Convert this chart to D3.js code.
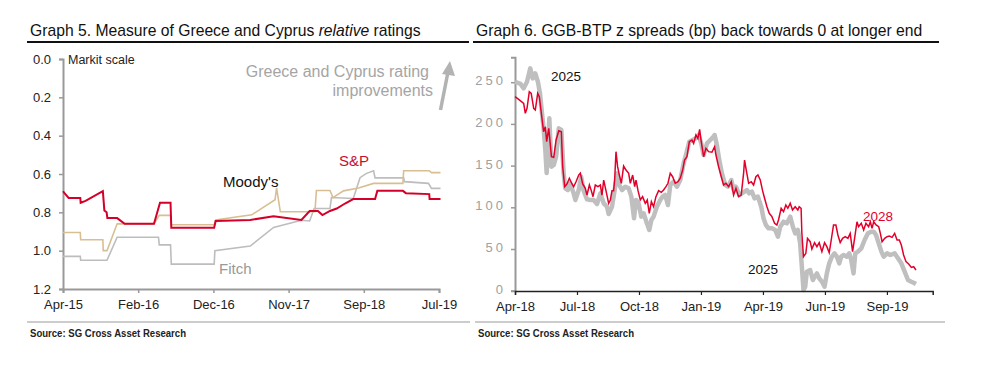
<!DOCTYPE html>
<html>
<head>
<meta charset="utf-8">
<script src="https://d3js.org/d3.v7.min.js"></script>
<style>
  body { margin: 0; background: #fff; }
  svg { font-family: "Liberation Sans", Arial, Helvetica, sans-serif; }
</style>
</head>
<body>
<div id="my_dataviz"></div>
<script>
// ---- Graph 5 data: [period index, Markit scale] ----
var ratingTicks = ["Apr-15", "Feb-16", "Dec-16", "Nov-17", "Sep-18", "Jul-19"];
var ratingYTicks = [0, 0.2, 0.4, 0.6, 0.8, 1.0, 1.2];

var sandp = [[0,0.69],[0.2,0.70],[0.75,0.725],[2.3,0.725],[2.35,0.75],[3.0,0.74],[5.3,0.69],[5.5,0.79],
  [5.8,0.80],[5.9,0.83],[7.2,0.83],[8.2,0.86],[12.1,0.86],[12.9,0.75],[14.3,0.75],[14.4,0.88],[20.1,0.88],
  [20.3,0.845],[24.9,0.84],[28.0,0.82],[31.7,0.84],[32.8,0.793],[33.9,0.793],[34.5,0.814],[35.5,0.793],
  [36.4,0.78],[37.5,0.754],[38.6,0.731],[41.5,0.731],[41.8,0.688],[45.2,0.688],[45.6,0.70],[48.7,0.705],
  [48.75,0.731],[50.2,0.731]];
var moodys = [[0,0.905],[2.3,0.905],[2.35,0.943],[5.3,0.943],[5.35,1.0],[5.85,1.0],[7.2,0.86],[12.1,0.86],
  [12.8,0.816],[14.3,0.816],[14.4,0.865],[20.1,0.865],[20.3,0.84],[25.1,0.813],[28.2,0.734],[28.4,0.673],
  [28.9,0.797],[33.5,0.797],[33.7,0.686],[35.5,0.686],[35.9,0.723],[37.3,0.688],[39.3,0.673],[41.3,0.649],
  [45.2,0.649],[45.3,0.583],[48.7,0.583],[49.0,0.593],[50.2,0.593]];
var fitch = [[0,1.03],[2.3,1.03],[2.35,1.05],[5.85,1.05],[7.2,0.93],[12.7,0.93],[12.8,0.97],[14.3,0.97],
  [14.4,1.07],[20.1,1.07],[20.2,1.0],[24.9,0.976],[28.0,0.879],[31.7,0.841],[32.8,0.845],[33.4,0.78],
  [35.5,0.78],[35.7,0.723],[38.6,0.728],[39.5,0.619],[40.3,0.598],[41.3,0.583],[41.5,0.62],[45.3,0.62],
  [45.4,0.64],[48.6,0.649],[49.0,0.675],[50.2,0.675]];

// ---- Graph 6 data: [business day from Apr-18, z spread bp] ----
var spreadTicks = ["Apr-18", "Jul-18", "Oct-18", "Jan-19", "Apr-19", "Jun-19", "Sep-19"];
var spreadYTicks = [0, 50, 100, 150, 200, 250];

var z2025 = [[0,250.6],[5.7,248],[9.1,242.7],[12.6,250.6],[16,266.6],[18.6,254.6],[21.3,260.6],[24,250.6],
  [26.2,236.6],[28.3,212.7],[30,194.7],[31.8,168.7],[33.2,141],[36,206.7],[38.2,148.7],[40.6,150.7],
  [43.1,160.7],[45.9,194.7],[48.6,192.7],[51,141],[52.7,122.8],[55.5,120.7],[58,128.7],[61.5,116.7],
  [63.3,108.8],[66.8,120.7],[69.3,136.7],[72,120],[75.5,109.5],[79,108.8],[82.5,108.8],[86,104],
  [89.5,116.7],[93,104.8],[96.5,100.7],[98.2,92],[101.7,100.7],[104.5,120.7],[107,140.7],[109.4,126.8],
  [112.2,120.7],[115.7,124.7],[119.2,122.7],[122,112.8],[124.8,86.8],[126.9,108.8],[129.6,104.8],
  [132.4,88.8],[134.9,92.8],[138.3,80.8],[140.8,72.8],[143,84.8],[145.3,88.8],[148.8,100.7],[152.3,108.8],
  [154.8,112.8],[157.5,114.8],[160.4,102.7],[162.8,126.8],[166.3,130.7],[169.8,124.7],[173.3,132.7],
  [176.8,152.7],[179.2,162.7],[182.8,178.7],[186.2,180.7],[189.7,182.7],[192.5,186.7],[195.3,176.7],
  [197.8,162.7],[201.3,176.7],[204.8,180.7],[208.2,184.7],[209.3,186.7],[211.7,174.7],[214.2,156.7],
  [217,140.7],[220.4,126.8],[223.2,124.7],[226.8,132.7],[229.2,120.7],[231.7,124.7],[235.2,114.7],
  [238,116.7],[240.7,118.7],[243.2,120.7],[245.6,116.7],[248.4,118.7],[251.2,110.8],[254.7,112.8],
  [258.2,100.7],[260.6,86.8],[263.1,78.8],[265.9,74.8],[269.4,74.8],[272.9,72.8],[275.7,64.8],[278.1,76.7],
  [281.6,82.8],[285.1,80.8],[288.6,88.8],[291.4,76.7],[293.8,68.8],[296.6,72.8],[299,56.8],[300.8,28.8],
  [302.5,0.8],[304.3,4.8],[306,22.8],[309.5,24.8],[312.3,12.8],[314.4,16.8],[316.6,20.8],[319,14.8],
  [321.8,10.8],[324.6,4.8],[327,20.8],[329.5,32.8],[332.3,40.8],[335,44.8],[337.5,40.8],[340,32.8],
  [342.1,40.8],[344.5,42.8],[348,40.8],[350.5,44.8],[352.6,36.8],[355,20.8],[356.8,44.8],[359.6,46.8],
  [363.1,50.8],[366.6,60.8],[370.1,68.8],[373.6,70.8],[376.1,70.8],[378.6,66.8],[381.4,56.8],[384.2,46.8],
  [386.6,40.8],[390.1,44.8],[393.6,42.8],[398.1,44.8],[401.6,38.8],[405.1,32.8],[408.6,22.8],[412.1,12.8],
  [415.6,10.8],[418,9.6],[420.4,8.0]];

var z2028 = [[0,232.6],[3.8,229.5],[9.1,224.7],[10.8,212.7],[12.6,218.7],[15,238.6],[17,236.6],[19.6,218.7],
  [21.3,216.7],[23.8,236.6],[25.5,232.6],[28.3,206.7],[30,190.7],[31.8,196.6],[33.2,178.7],[35.4,194.7],
  [38.2,160.7],[40.6,160],[43.1,180.7],[45.9,191.8],[48.6,190.7],[50,148.7],[52.1,124.7],[54.5,127.9],
  [57,134.8],[59.8,128],[61.5,124.7],[64,130.7],[66.8,138.7],[68.5,141],[71,128],[73.7,122.8],[75.5,114.7],
  [78,126.7],[80,120],[81.8,112.7],[84.2,126.7],[87,124.7],[89.5,126.7],[91.2,114.7],[93,132.7],[95.4,120],
  [98.2,104.8],[100,108.8],[101.7,120],[103.4,120],[104.5,132.7],[105.9,166.7],[107.6,148.7],[109.4,138.7],
  [111.5,128.8],[113.9,149.5],[116.4,144.7],[119.2,140.7],[120.9,128.8],[123.4,138.7],[125.5,124.7],
  [126.9,132.7],[129,120],[131.4,108.8],[133.8,112.8],[136.6,104.8],[138.7,108.8],[140.8,92.8],[143,106.8],
  [145.3,100.7],[147.8,112.8],[150.6,120],[153.4,118],[155.8,120.7],[158.3,124.7],[160.4,128.8],
  [162.8,140.7],[165.3,136.7],[168,128.8],[170.9,130.7],[173.3,134.8],[175.8,144.7],[177.8,156.7],
  [180.3,160.7],[182.8,178.7],[185.5,180.7],[187.3,176.7],[189.7,186.7],[191.8,182.7],[193.6,193.5],
  [195.3,178.7],[197.8,160.7],[200.2,170.7],[203,166.7],[206.5,166],[209.3,172.7],[210.7,162.7],
  [213.5,148.7],[216.3,136.7],[218.7,126.8],[221.2,128.8],[224,124.7],[226.8,130.7],[229.2,114.7],
  [231.7,122.7],[234.4,112.8],[237.2,114.7],[239.7,140.7],[240.7,156.7],[242.5,144.7],[245,128.8],
  [247.7,130.7],[250.2,126.8],[252.6,136.7],[254.7,138.7],[257.2,132.7],[259.6,120],[261.7,110.8],
  [264.2,100.7],[266.6,92.8],[269.4,88.8],[272.2,80.8],[274.6,78.8],[276.3,84.8],[279.1,98.8],[281.6,94.8],
  [284,102.7],[286.1,98.8],[288.6,104.8],[291,96.8],[293.8,100.7],[296.6,96.8],[298,100.7],[300,98.8],
  [300.8,68.8],[302.5,40.8],[305,44.8],[306.7,62.8],[309.5,58.8],[311.3,50],[314.1,57.6],[316.6,52.8],
  [319,57.6],[321.8,46.8],[324.6,57.6],[327,52.8],[329.5,45.6],[331.6,60.8],[334,78.8],[336.5,78.8],
  [338.6,66.8],[341,57.6],[343.5,62.8],[346.3,64.8],[349.1,62.8],[351.5,68.8],[354,46.8],[356.1,62.8],
  [358.6,82.7],[360.3,76.7],[363.1,80.8],[365.6,72.8],[368,80.8],[370.8,76.7],[372.6,82.7],[374.4,74.8],
  [376.1,82.7],[378.6,78.8],[381.4,76.7],[383.1,68.8],[384.9,58.8],[387.7,62.8],[390.1,64.8],[392.6,65.5],
  [395.4,64],[398.1,68.8],[400.6,60.8],[403,60.8],[405.1,54.8],[407.5,42.8],[410,34.8],[412.8,32],
  [415.6,28],[418,28.8],[420.4,24.8]];

var width = 995, height = 370;
var red = "#e2002b";

var svg = d3.select("#my_dataviz")
  .append("svg")
    .attr("width", width)
    .attr("height", height);

// ---------- panel frames: titles, rules, sources ----------
function panelFrame(x0, x1, bx0, bx1, title, italicWord) {
  var t = svg.append("text")
      .attr("x", x0 + 3)
      .attr("y", 36)
      .style("font-size", "15.7px")
      .attr("fill", "#111");
  if (italicWord) {
    var parts = title.split(italicWord);
    t.append("tspan").text(parts[0]);
    t.append("tspan").text(italicWord).style("font-style", "italic");
    t.append("tspan").text(parts[1]);
  } else {
    t.text(title);
  }
  svg.append("line")
      .attr("x1", x0).attr("x2", x1)
      .attr("y1", 42).attr("y2", 42)
      .attr("stroke", "#111").attr("stroke-width", 2);
  svg.append("line")
      .attr("x1", bx0).attr("x2", bx1)
      .attr("y1", 322).attr("y2", 322)
      .attr("stroke", "#ccc").attr("stroke-width", 2);
  svg.append("text")
      .attr("x", bx0 + 3)
      .attr("y", 337)
      .text("Source: SG Cross Asset Research")
      .attr("textLength", 156)
      .attr("lengthAdjust", "spacingAndGlyphs")
      .style("font-size", "10.5px")
      .style("font-weight", "bold")
      .attr("fill", "#222");
}
panelFrame(27, 469, 27, 470, "Graph 5. Measure of Greece and Cyprus relative ratings", "relative");
panelFrame(473, 939, 475, 945, "Graph 6. GGB-BTP z spreads (bp) back towards 0 at longer end", null);

// ---------- Graph 5 ----------
var x5 = d3.scaleLinear().domain([0, 50]).range([63, 439]);
var y5 = d3.scaleLinear().domain([0, 1.2]).range([59, 289]);

var g5 = svg.append("g");

g5.append("g")
    .attr("transform", "translate(63,0)")
    .call(d3.axisLeft(y5).tickValues(ratingYTicks).tickFormat(d3.format(".1f")).tickSize(4).tickPadding(8))
    .call(function(g) {
      g.select(".domain").attr("stroke", "#999").attr("stroke-width", 2);
      g.selectAll(".tick line").attr("stroke", "#999").attr("stroke-width", 1.5);
      g.selectAll("text").style("font-size", "13px").attr("fill", "#222").attr("font-family", null);
    });

g5.append("g")
    .attr("transform", "translate(0,289)")
    .call(d3.axisBottom(x5).tickValues(d3.range(ratingTicks.length).map(function(i) { return i * 10; }))
      .tickFormat(function(d, i) { return ratingTicks[i]; }).tickSize(4).tickPadding(7))
    .call(function(g) {
      g.select(".domain").attr("stroke", "#999").attr("stroke-width", 2);
      g.selectAll(".tick line").attr("stroke", "#999").attr("stroke-width", 1.5);
      g.selectAll("text").style("font-size", "13px").attr("fill", "#222").attr("font-family", null);
    });

var line5 = d3.line()
    .x(function(d) { return x5(d[0]); })
    .y(function(d) { return y5(d[1]); });

g5.append("path").datum(fitch)
    .attr("fill", "none").attr("stroke", "#bdbdbd").attr("stroke-width", 1.6).attr("d", line5);
g5.append("path").datum(moodys)
    .attr("fill", "none").attr("stroke", "#d8bf93").attr("stroke-width", 1.6).attr("d", line5);
g5.append("path").datum(sandp)
    .attr("fill", "none").attr("stroke", "#d4002a").attr("stroke-width", 2).attr("d", line5);

// labels
g5.append("text").attr("x", 68).attr("y", 64).text("Markit scale")
    .style("font-size", "12.5px").attr("fill", "#222");
g5.append("text").attr("x", 223).attr("y", 187).text("Moody's")
    .style("font-size", "15px").attr("fill", "#111");
g5.append("text").attr("x", 339).attr("y", 166).text("S&P")
    .style("font-size", "15px").attr("fill", "#c8102e");
g5.append("text").attr("x", 219).attr("y", 274).text("Fitch")
    .style("font-size", "15px").attr("fill", "#999");
g5.append("text").attr("x", 429).attr("y", 77).attr("text-anchor", "end")
    .text("Greece and Cyprus rating")
    .style("font-size", "16px").attr("fill", "#a5a5a5");
g5.append("text").attr("x", 433).attr("y", 96).attr("text-anchor", "end")
    .text("improvements")
    .style("font-size", "16px").attr("fill", "#a5a5a5");

// arrow
g5.append("line")
    .attr("x1", 440.5).attr("y1", 110).attr("x2", 448).attr("y2", 72)
    .attr("stroke", "#b3b3b3").attr("stroke-width", 3.5);
g5.append("path")
    .attr("d", "M" + 450 + "," + 61 + "L" + 442 + "," + 74 + "L" + 455 + "," + 76 + "Z")
    .attr("fill", "#b3b3b3");

// ---------- Graph 6 ----------
var x6 = d3.scaleLinear().domain([0, 438]).range([515, 932.7]);
var y6 = d3.scaleLinear().domain([0, 280]).range([290.7, 57.2]);

var g6 = svg.append("g");

g6.append("g")
    .attr("transform", "translate(515,0)")
    .call(d3.axisLeft(y6).tickValues(spreadYTicks).tickSize(4).tickPadding(5))
    .call(function(g) {
      g.select(".domain").attr("stroke", "#999").attr("stroke-width", 2);
      g.selectAll(".tick line").attr("stroke", "#999").attr("stroke-width", 1.5);
      g.selectAll("text").style("font-size", "13px").style("letter-spacing", "3px")
        .attr("fill", "#a0a0a0").attr("font-family", null).attr("dy", "0.2em");
    });

var line6 = d3.line()
    .x(function(d) { return x6(d[0]); })
    .y(function(d) { return y6(d[1]); });

g6.append("path").datum(z2025)
    .attr("fill", "none").attr("stroke", "#bfbfbf").attr("stroke-width", 4.5)
    .attr("stroke-linejoin", "round").attr("d", line6);
g6.append("path").datum(z2028)
    .attr("fill", "none").attr("stroke", red).attr("stroke-width", 1.5).attr("d", line6);

g6.append("g")
    .attr("transform", "translate(0,291)")
    .call(d3.axisBottom(x6).tickValues(d3.range(spreadTicks.length).map(function(i) { return i * 65; }))
      .tickFormat(function(d, i) { return spreadTicks[i]; }).tickSize(4).tickPadding(7))
    .call(function(g) {
      g.select(".domain").attr("stroke", "#222").attr("stroke-width", 1.5);
      g.selectAll(".tick line").attr("stroke", "#222").attr("stroke-width", 1.2);
      g.selectAll("text").style("font-size", "13px").attr("fill", "#222").attr("font-family", null);
    });

g6.append("text").attr("x", 551).attr("y", 81).text("2025")
    .style("font-size", "13.5px").attr("fill", "#111");
g6.append("text").attr("x", 748).attr("y", 274).text("2025")
    .style("font-size", "13.5px").attr("fill", "#111");
g6.append("text").attr("x", 863).attr("y", 221).text("2028")
    .style("font-size", "13.5px").attr("fill", red);
</script>
</body>
</html>
